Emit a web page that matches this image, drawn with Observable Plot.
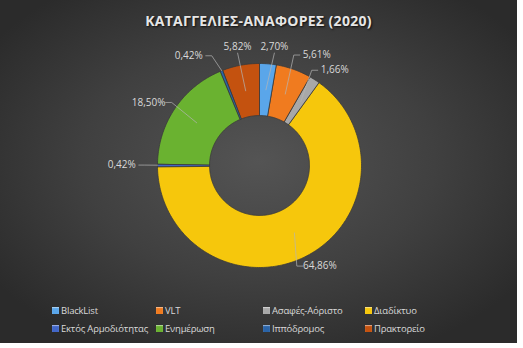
<!DOCTYPE html>
<html>
<head>
<meta charset="utf-8">
<script src="https://cdn.jsdelivr.net/npm/d3@7"></script>
<script src="https://cdn.jsdelivr.net/npm/@observablehq/plot@0.6"></script>
<style>
  html, body { margin: 0; padding: 0; background: #ffffff; }
  #frame {
    position: relative; width: 517px; height: 343px; overflow: hidden;
    background: radial-gradient(ellipse 62% 62% at 50% 47%, #545454 0%, #404040 55%, #2b2b2b 100%);
    font-family: "Open Sans", "Noto Sans", sans-serif;
  }
  #title {
    position: absolute; top: 11px; left: 0; width: 517px; text-align: center;
    font-weight: 700; font-size: 14px; color: #e6e6e6; letter-spacing: 0.3px;
    text-shadow: 1px 1px 2px rgba(0,0,0,0.8);
  }
  #chart { position: absolute; top: 36px; left: 0; }
  #legend {
    position: absolute; top: 301px; left: 52px;
    display: grid; grid-template-columns: 104px 107px 102px auto; grid-auto-rows: 18px;
    font-size: 9.5px; letter-spacing: -0.2px; color: #d9d9d9;
  }
  .item { display: flex; align-items: center; white-space: nowrap; }
  .sw { width: 7px; height: 7px; margin-right: 2px; box-shadow: inset 0 1px 1px rgba(255,255,255,0.5); }
</style>
</head>
<body>
<div id="frame">
  <div id="title"></div>
  <div id="chart"></div>
  <div id="legend"></div>
</div>
<script>
const title = "ΚΑΤΑΓΓΕΛΙΕΣ-ΑΝΑΦΟΡΕΣ (2020)";
const categories = ["BlackList", "VLT", "Ασαφές-Αόριστο", "Διαδίκτυο", "Εκτός Αρμοδιότητας", "Ενημέρωση", "Ιππόδρομος", "Πρακτορείο"];
const values = [2.70, 5.61, 1.66, 64.86, 0.42, 18.50, 0.42, 5.82];
const colors = ["#5aa6ea", "#f07b1f", "#a8a8a8", "#f6c70c", "#4166c8", "#6ab230", "#2a64a8", "#c4520f"];
// label layout (angle nudge in degrees, radius relative to outer radius)
const labelShift = [2.3, 7.6, 5.4, -3.6, 0, -4.6, -11.1, 0];
const labelRadius = [1.17, 1.22, 1.19, 1.15, 1.35, 1.25, 1.28, 1.18];

const R_OUT = 1, R_IN = 0.49, PX = 1 / 102;
const total = d3.sum(values);
const rad = a => a * Math.PI / 180;
const polar = (a, r) => [r * Math.sin(rad(a)), r * Math.cos(rad(a))];

let cum = 0;
const slices = values.map((v, i) => {
  const a0 = cum / total * 360; cum += v;
  const a1 = cum / total * 360;
  return { cat: categories[i], v, a0, a1, mid: (a0 + a1) / 2, i };
});

const arcRows = [];
for (const s of slices) {
  const n = Math.max(2, Math.ceil((s.a1 - s.a0) / 1));
  for (let k = 0; k <= n; k++) {
    const a = s.a0 + (s.a1 - s.a0) * k / n;
    const [x, y] = polar(a, R_OUT); arcRows.push({ cat: s.cat, x, y });
  }
  for (let k = n; k >= 0; k--) {
    const a = s.a0 + (s.a1 - s.a0) * k / n;
    const [x, y] = polar(a, R_IN); arcRows.push({ cat: s.cat, x, y });
  }
}

const fmt = v => v.toFixed(2).replace(".", ",") + "%";
const labelRows = slices.map(s => {
  const [x, y] = polar(s.mid + labelShift[s.i], labelRadius[s.i]);
  return { cat: s.cat, x, y, text: fmt(s.v) };
});

const halfW = 15 * PX, halfH = 6 * PX;
const leaderRows = [];
slices.forEach((s, i) => {
  const L = labelRows[i];
  const [ax, ay] = polar(s.mid, s.v < 1 ? R_OUT : (R_OUT + R_IN) / 2);
  let pts;
  if (Math.abs(ax - L.x) < halfW) {
    const sy = L.y + (ay < L.y ? -halfH : halfH);
    pts = [[L.x, sy], [ax, ay]];
  } else {
    const dir = ax > L.x ? 1 : -1;
    const sx = L.x + dir * (halfW + 2 * PX);
    pts = [[sx, L.y], [sx + dir * 6 * PX, L.y], [ax, ay]];
  }
  pts.forEach(([x, y]) => leaderRows.push({ cat: s.cat, x, y }));
});

const chart = Plot.plot({
  width: 517, height: 262,
  margin: 0,
  x: { domain: [-1, 1], range: [157, 361], axis: null },
  y: { domain: [-1, 1], range: [231, 27], axis: null },
  color: { domain: categories, range: colors },
  style: { background: "transparent", overflow: "visible" },
  marks: [
    Plot.line(arcRows, { x: "x", y: "y", z: "cat", fill: "cat", stroke: "#3a3a3a", strokeWidth: 0.8, curve: "linear-closed" }),
    Plot.line(leaderRows, { x: "x", y: "y", z: "cat", stroke: "#b5b5b5", strokeWidth: 0.7 }),
    Plot.text(labelRows, { x: "x", y: "y", text: "text", fill: "#d9d9d9", fontSize: 10, fontFamily: "Open Sans, Noto Sans, sans-serif" })
  ]
});
document.getElementById("chart").appendChild(chart);
document.getElementById("title").textContent = title;

const legend = document.getElementById("legend");
categories.forEach((c, i) => {
  const item = document.createElement("div"); item.className = "item";
  const sw = document.createElement("span"); sw.className = "sw"; sw.style.background = colors[i];
  const t = document.createElement("span"); t.textContent = c;
  item.appendChild(sw); item.appendChild(t); legend.appendChild(item);
});
</script>
</body>
</html>
